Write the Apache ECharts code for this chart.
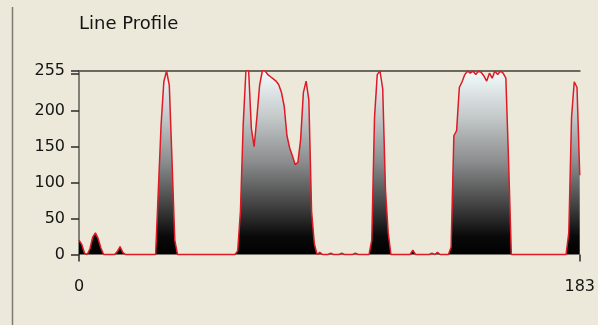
<!DOCTYPE html>
<html>
<head>
<meta charset="utf-8">
<script src="https://cdn.jsdelivr.net/npm/echarts@6/dist/echarts.min.js"></script>
<style>
  html, body { margin: 0; padding: 0; background: #ECE9DA; }
  #chart { width: 598px; height: 325px; }
</style>
</head>
<body>
<div id="chart"></div>
<script>
// Intensity profile sampled along a line: one grey level (0-255) per pixel position 0..183
const profile = [
  20, 14, 2, 0, 8, 24, 30, 22, 9, 0,
  0, 0, 0, 0, 4, 11, 3, 0, 0, 0,
  0, 0, 0, 0, 0, 0, 0, 0, 0, 90,
  180, 240, 255, 235, 130, 20, 0, 0, 0, 0,
  0, 0, 0, 0, 0, 0, 0, 0, 0, 0,
  0, 0, 0, 0, 0, 0, 0, 0, 5, 60,
  180, 255, 255, 175, 150, 190, 235, 255, 255, 250,
  247, 244, 241, 236, 225, 206, 165, 148, 137, 125,
  128, 160, 225, 241, 215, 60, 15, 0, 3, 0,
  0, 0, 2, 0, 0, 0, 2, 0, 0, 0,
  0, 2, 0, 0, 0, 0, 0, 20, 190, 250,
  255, 230, 90, 30, 0, 0, 0, 0, 0, 0,
  0, 0, 6, 0, 0, 0, 0, 0, 0, 2,
  0, 3, 0, 0, 0, 0, 10, 165, 172, 232,
  240, 250, 255, 252, 255, 250, 255, 253, 248, 241,
  252, 245, 255, 250, 255, 252, 245, 130, 0, 0,
  0, 0, 0, 0, 0, 0, 0, 0, 0, 0,
  0, 0, 0, 0, 0, 0, 0, 0, 0, 30,
  190, 240, 232, 110
];

const xTicks = [0, 183];
const yTicks = [0, 50, 100, 150, 200, 255];
const yTickMarks = [0, 50, 100, 150, 200, 251, 255];

const font = 'DejaVu Sans';
const chart = echarts.init(document.getElementById('chart'), null, { renderer: 'canvas' });

chart.setOption({
  backgroundColor: '#ECE9DA',
  animation: false,
  title: {
    text: 'Line Profile',
    left: 74,
    top: 10,
    textStyle: { fontFamily: font, fontSize: 18, fontWeight: 'normal', color: '#141414' }
  },
  graphic: [{
    type: 'line',
    shape: { x1: 12.5, y1: 7, x2: 12.5, y2: 325 },
    style: { stroke: '#7d7b70', lineWidth: 1.5 }
  }],
  grid: { left: 79, right: 15, top: 71, bottom: 70.5 },
  xAxis: [{
    type: 'value',
    min: 0,
    max: 183,
    offset: 11,
    axisLine: { show: false },
    axisTick: { customValues: xTicks, length: 7, lineStyle: { color: '#2a2a2a', width: 1.5 } },
    axisLabel: { customValues: xTicks, margin: 13, fontFamily: font, fontSize: 16, color: '#141414' },
    splitLine: { show: false }
  }, {
    type: 'value',
    position: 'top',
    min: 0,
    max: 183,
    axisLine: { show: true, lineStyle: { color: '#6b695e', width: 2 } },
    axisTick: { show: false },
    axisLabel: { show: false },
    splitLine: { show: false }
  }],
  yAxis: {
    type: 'value',
    min: 0,
    max: 255,
    offset: 3,
    axisLine: { show: true, lineStyle: { color: '#5e5c54', width: 1.5 } },
    axisTick: { customValues: yTickMarks, length: 8, lineStyle: { color: '#2a2a2a', width: 1.5 } },
    axisLabel: { customValues: yTicks, margin: 11, fontFamily: font, fontSize: 16, color: '#141414' },
    splitLine: { show: false }
  },
  series: [{
    type: 'line',
    xAxisIndex: 0,
    data: profile.map((v, i) => [i, v]),
    showSymbol: false,
    sampling: null,
    clip: false,
    lineStyle: { color: '#de1a26', width: 1.5 },
    areaStyle: {
      color: new echarts.graphic.LinearGradient(0, 0, 0, 1, [
        { offset: 0, color: '#f3fbfb' },
        { offset: 0.25, color: '#c4c9ca' },
        { offset: 0.5, color: '#8a8b8c' },
        { offset: 0.75, color: '#3c3c3c' },
        { offset: 0.9, color: '#0a0a0a' },
        { offset: 1, color: '#000000' }
      ]),
      opacity: 1
    }
  }]
});
</script>
</body>
</html>
